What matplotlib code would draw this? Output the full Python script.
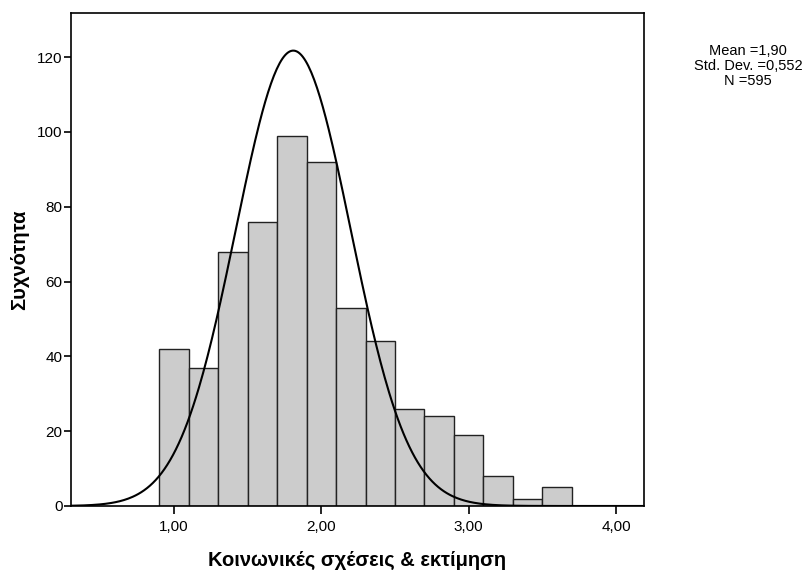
import numpy as np
import matplotlib
matplotlib.use('Agg')
import matplotlib.pyplot as plt

plt.rcParams['font.family'] = ['Liberation Sans', 'DejaVu Sans']

# bin edges start at 0.9, width 0.2
bin_left = [0.9, 1.1, 1.3, 1.5, 1.7, 1.9, 2.1, 2.3, 2.5, 2.7, 2.9, 3.1, 3.3, 3.5]
counts = [42, 37, 68, 76, 99, 92, 53, 44, 26, 24, 19, 8, 2, 5]
bin_width = 0.2

# parameters of the overlaid normal curve
curve_mean = 1.81
curve_sd = 0.39
n_total = 595

stats_text = 'Mean =1,90\nStd. Dev. =0,552\nN =595'

fig = plt.figure(figsize=(8.06, 5.72), dpi=100)
ax = fig.add_axes([0.0881, 0.1154, 0.711, 0.862])

ax.bar(bin_left, counts, width=bin_width, align='edge',
       color='#cccccc', edgecolor='#222222', linewidth=1.0, zorder=2)

xs = np.linspace(0.3, 4.2, 400)
ys = n_total * bin_width / (curve_sd * np.sqrt(2 * np.pi)) * \
    np.exp(-0.5 * ((xs - curve_mean) / curve_sd) ** 2)
ax.plot(xs, ys, color='black', linewidth=1.5, zorder=3)

ax.set_xlim(0.302, 4.19)
ax.set_ylim(0, 131.8)
ax.set_xticks([1, 2, 3, 4])
ax.set_xticklabels(['1,00', '2,00', '3,00', '4,00'])
ax.set_yticks([0, 20, 40, 60, 80, 100, 120])
ax.tick_params(axis='both', labelsize=11, width=1.2, color='black')
ax.tick_params(axis='x', length=6, pad=4)
ax.tick_params(axis='y', length=5, pad=1)
for s in ax.spines.values():
    s.set_linewidth(1.2)

ax.set_xlabel('Κοινωνικές σχέσεις & εκτίμηση', fontsize=14.5,
              fontweight='bold', labelpad=12)
ax.set_ylabel('Συχνότητα', fontsize=14.5, fontweight='bold', labelpad=6)

fig.text(0.928, 0.884, stats_text, ha='center', va='center',
         fontsize=10.5, linespacing=1.1)

fig.savefig('out.png', dpi=100)
